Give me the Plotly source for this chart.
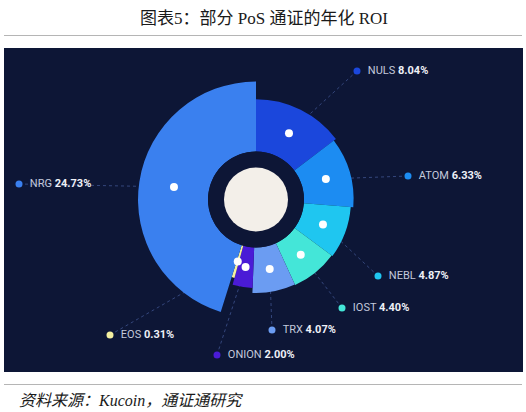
import numpy as np
import plotly.graph_objects as go

# ---------------- data ----------------
tokens = ["NULS", "ATOM", "NEBL", "IOST", "TRX", "ONION", "EOS", "NRG"]
roi = [8.04, 6.33, 4.87, 4.40, 4.07, 2.00, 0.31, 24.73]

# ---------------- styles / layout ----------------
colors = ["#1b47dc", "#1c8cf2", "#1fc6f0", "#44e6d8", "#6b9cf2", "#4a1bd6", "#f3efa0", "#3a80ef"]
label_xy = [(357, 71), (408, 176), (378, 276), (342, 308), (272, 330), (217, 355), (110, 335), (19, 184)]

W, H = 526, 412
CX, CY = 256.0, 199.5          # centre of the rose in pixels
R_OUT, R_IN = 125.0, 48.0      # outer extent of radial axis / hole radius (px)
B, SMAX = -3.46, 5.82          # radial axis range (sqrt-of-value units)
PANEL = "#0d1636"

vals = np.array(roi)
s = np.sqrt(vals)                       # radial scale: square root of ROI
sweep = 360.0 * vals / vals.sum()       # angular share
start = np.concatenate([[0], np.cumsum(sweep)[:-1]])
mid = start + sweep / 2
s_mid = (B + s) / 2

def to_px(theta, sv):
    r = R_IN + (sv - B) / (SMAX - B) * (R_OUT - R_IN)
    t = np.radians(theta)
    return CX + r * np.sin(t), CY - r * np.cos(t)

fig = go.Figure()

# leader lines (dotted), beneath the sectors
lx, ly = [], []
for i in range(len(tokens)):
    px, py = to_px(mid[i], s_mid[i])
    lx += [label_xy[i][0], px, None]
    ly += [label_xy[i][1], py, None]
fig.add_trace(go.Scatter(x=lx, y=ly, mode="lines",
                         line=dict(color="#34467c", width=1, dash="dot"),
                         hoverinfo="skip", showlegend=False))

# label markers + texts
fig.add_trace(go.Scatter(
    x=[p[0] for p in label_xy], y=[p[1] for p in label_xy],
    mode="markers+text",
    marker=dict(size=7, color=colors),
    text=[f"  <span style='color:#c3c9dc'>{n}</span> <b>{v:.2f}%</b>" for n, v in zip(tokens, roi)],
    textposition="middle right",
    textfont=dict(family="Roboto, Open Sans, sans-serif", size=11, color="#eef0f6"),
    hoverinfo="skip", showlegend=False, cliponaxis=False))

# rose sectors
fig.add_trace(go.Barpolar(
    theta=mid, width=sweep, r=s - B, base=B,
    marker=dict(color=colors, line=dict(width=0)),
    hoverinfo="skip", showlegend=False))

# white dots on the sectors
fig.add_trace(go.Scatterpolar(
    theta=mid, r=s_mid, mode="markers",
    marker=dict(size=8, color="#ffffff"),
    hoverinfo="skip", showlegend=False))

dx0, dx1 = (CX - R_OUT) / W, (CX + R_OUT) / W
dy0, dy1 = (H - CY - R_OUT) / H, (H - CY + R_OUT) / H

fig.update_layout(
    width=W, height=H,
    margin=dict(l=0, r=0, t=0, b=0),
    paper_bgcolor="white", plot_bgcolor="rgba(0,0,0,0)",
    xaxis=dict(range=[0, W], visible=False, fixedrange=True, domain=[0, 1]),
    yaxis=dict(range=[H, 0], visible=False, fixedrange=True, domain=[0, 1]),
    polar=dict(
        domain=dict(x=[dx0, dx1], y=[dy0, dy1]),
        bgcolor="rgba(0,0,0,0)",
        hole=R_IN / R_OUT,
        radialaxis=dict(range=[B, SMAX], visible=False, showgrid=False),
        angularaxis=dict(rotation=90, direction="clockwise", visible=False, showgrid=False),
    ),
    shapes=[
        dict(type="rect", xref="x", yref="y", x0=4, x1=523, y0=48, y1=372,
             fillcolor=PANEL, line=dict(width=0), layer="below"),
        dict(type="line", xref="x", yref="y", x0=4, x1=522, y0=35.5, y1=35.5,
             line=dict(color="#b5b5b5", width=1)),
        dict(type="line", xref="x", yref="y", x0=4, x1=522, y0=384.5, y1=384.5,
             line=dict(color="#b5b5b5", width=1)),
        dict(type="circle", xref="x", yref="y", x0=CX - 32, x1=CX + 32, y0=CY - 32, y1=CY + 32,
             fillcolor="#f3efe9", line=dict(width=0), layer="above"),
    ],
    annotations=[
        dict(x=264, y=18, xref="x", yref="y", showarrow=False,
             text="图表5：部分 PoS 通证的年化 ROI",
             font=dict(family="Liberation Serif, Noto Sans CJK SC", size=17, color="#1a1a1a")),
        dict(x=17, y=400, xref="x", yref="y", showarrow=False, xanchor="left",
             text="<i>资料来源：Kucoin，通证通研究</i>",
             font=dict(family="Liberation Serif, Noto Sans CJK SC", size=16, color="#1a1a1a")),
    ],
)

fig.write_html("out.html", config={"displayModeBar": False},
               post_script="document.body.style.margin='0';document.body.style.overflow='hidden';")
